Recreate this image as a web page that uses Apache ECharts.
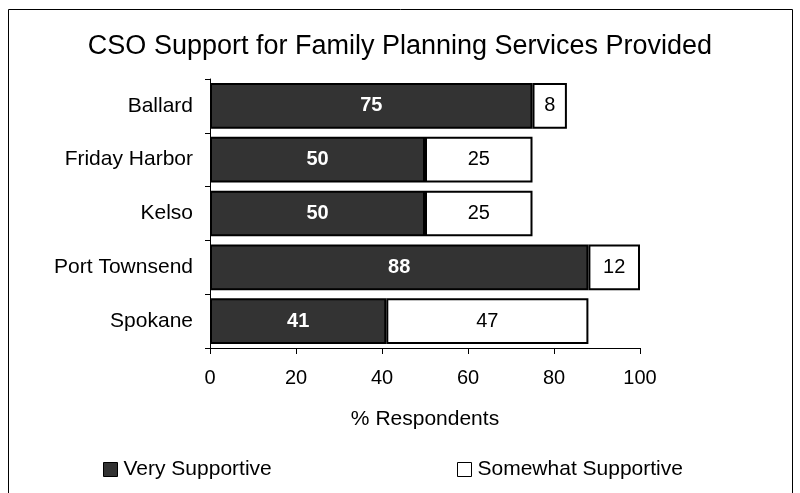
<!DOCTYPE html>
<html lang="en">

<head>
    <meta charset="UTF-8">
    <title>CSO Support</title>
    <script src="https://cdn.jsdelivr.net/npm/echarts@6/dist/echarts.min.js"></script>
    <style>
        body { margin: 0; background: #fff; }
        #chart { width: 800px; height: 493px; }
    </style>
</head>

<body>
    <div id="chart"></div>

    <script>
        var sites = ['Ballard', 'Friday Harbor', 'Kelso', 'Port Townsend', 'Spokane'];
        var verySupportive = [75, 50, 50, 88, 41];
        var somewhatSupportive = [8, 25, 25, 12, 47];

        var font = 'Liberation Sans, Arial, sans-serif';
        var chart = echarts.init(document.getElementById('chart'));

        chart.setOption({
            animation: false,
            textStyle: { fontFamily: font },
            graphic: [{
                type: 'rect',
                shape: { x: 8.5, y: 9.5, width: 784, height: 500 },
                style: { fill: 'none', stroke: '#000', lineWidth: 1 }
            }],
            title: {
                text: 'CSO Support for Family Planning Services Provided',
                left: 'center',
                top: 28,
                textStyle: { fontSize: 27, fontWeight: 'normal', color: '#000', fontFamily: font }
            },
            legend: [{
                data: ['Very Supportive'],
                left: 103,
                top: 459,
                padding: 0,
                icon: 'rect',
                itemWidth: 14,
                itemHeight: 14,
                itemStyle: { borderWidth: 1 },
                textStyle: { fontSize: 21, color: '#000', fontFamily: font, padding: [0, 0, 0, 1] }
            }, {
                data: ['Somewhat Supportive'],
                left: 457,
                top: 459,
                padding: 0,
                icon: 'rect',
                itemWidth: 14,
                itemHeight: 14,
                itemStyle: { borderWidth: 1 },
                textStyle: { fontSize: 21, color: '#000', fontFamily: font, padding: [0, 0, 0, 1] }
            }],
            grid: { left: 210, right: 160, top: 79, bottom: 145 },
            xAxis: {
                type: 'value',
                min: 0,
                max: 100,
                interval: 20,
                name: '% Respondents',
                nameLocation: 'middle',
                nameGap: 61,
                nameTextStyle: { fontSize: 21, color: '#000' },
                axisLine: { show: true, lineStyle: { color: '#000', width: 1 } },
                axisTick: { show: true, length: 6, lineStyle: { color: '#000' } },
                axisLabel: { fontSize: 20, color: '#000', margin: 20 },
                splitLine: { show: false }
            },
            yAxis: {
                type: 'category',
                data: sites,
                inverse: true,
                axisLine: { show: true, lineStyle: { color: '#000', width: 1 } },
                axisTick: { show: true, length: 5, lineStyle: { color: '#000' } },
                axisLabel: { fontSize: 21, color: '#000', margin: 17 }
            },
            series: [{
                name: 'Very Supportive',
                type: 'bar',
                stack: 'total',
                barCategoryGap: '15%',
                data: verySupportive,
                itemStyle: { color: '#333333', borderColor: '#000', borderWidth: 2 },
                label: { show: true, position: 'inside', color: '#fff', fontWeight: 'bold', fontSize: 20 }
            }, {
                name: 'Somewhat Supportive',
                type: 'bar',
                stack: 'total',
                barCategoryGap: '15%',
                data: somewhatSupportive,
                itemStyle: { color: '#ffffff', borderColor: '#000', borderWidth: 2 },
                label: { show: true, position: 'inside', color: '#000', fontSize: 20 }
            }]
        });
    </script>
</body>

</html>
